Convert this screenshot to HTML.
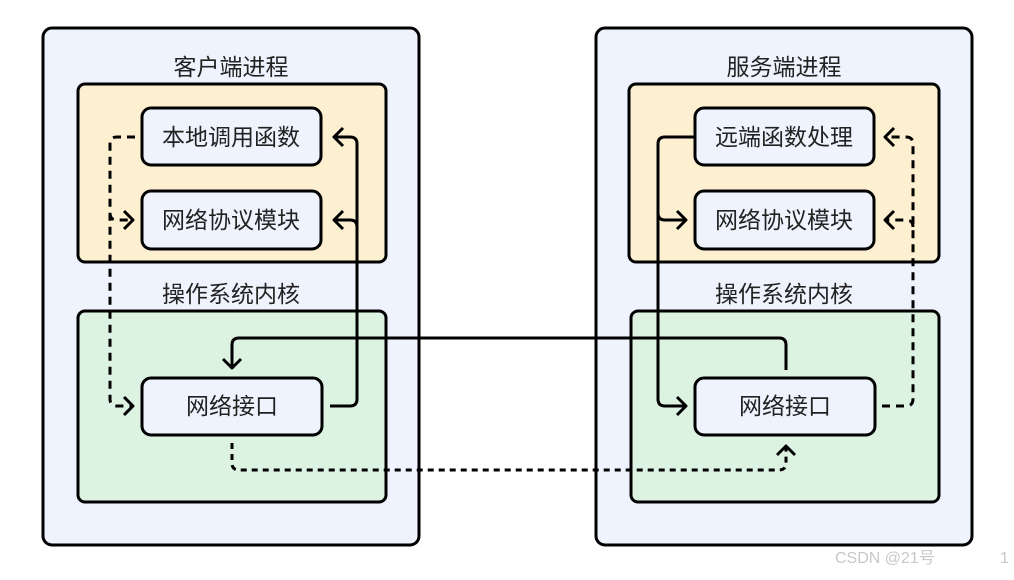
<!DOCTYPE html>
<html><head><meta charset="utf-8"><style>
html,body{margin:0;padding:0;background:#fff;}
svg text{font-family:"Liberation Sans","Noto Sans CJK SC",sans-serif;}
</style></head><body>
<svg width="1014" height="575" viewBox="0 0 1014 575" xmlns="http://www.w3.org/2000/svg">
<g stroke="#000" stroke-width="3">
<rect x="43" y="28" width="376" height="517" rx="9" fill="#eef3fd"/>
<rect x="596" y="28" width="376" height="517" rx="9" fill="#eef3fd"/>
<rect x="78" y="84" width="308" height="178" rx="7" fill="#fdf0d0"/>
<rect x="629" y="84" width="310" height="178" rx="7" fill="#fdf0d0"/>
<rect x="78" y="311" width="308" height="191" rx="7" fill="#ddf3e2"/>
<rect x="631" y="311" width="308" height="191" rx="7" fill="#ddf3e2"/>
<rect x="142" y="108" width="179" height="57" rx="9" fill="#eef3fd"/>
<rect x="142" y="191" width="179" height="58" rx="9" fill="#eef3fd"/>
<rect x="142" y="378" width="180" height="57" rx="9" fill="#eef3fd"/>
<rect x="695" y="108" width="179" height="57" rx="9" fill="#eef3fd"/>
<rect x="695" y="191" width="179" height="58" rx="9" fill="#eef3fd"/>
<rect x="695" y="378" width="180" height="57" rx="9" fill="#eef3fd"/>
</g>
<g fill="none" stroke="#000" stroke-width="3" stroke-linejoin="round">
<path d="M330 406 H350 Q357 406 357 399 V144 Q357 137 350 137 H334"/>
<path d="M357 227 Q357 220 350 220 H334"/>
<path d="M343 128 L334 137 L343 146 M343 211 L334 220 L343 229"/>
<path d="M135 137 H117 Q110 137 110 144 V399 Q110 406 117 406 H133" stroke-dasharray="8 6"/>
<path d="M110 213 Q110 220 117 220 H133" stroke-dasharray="8 6"/>
<path d="M124 211 L133 220 L124 229 M124 397 L133 406 L124 415"/>
<path d="M786 370 V345 Q786 338 779 338 H239 Q232 338 232 345 V368"/>
<path d="M223 359 L232 368 L241 359"/>
<path d="M232 443 V463 Q232 470 239 470 H779 Q786 470 786 463 V446" stroke-dasharray="6 5"/>
<path d="M777 455 L786 446 L795 455"/>
<path d="M695 137 H665 Q658 137 658 144 V399 Q658 406 665 406 H686"/>
<path d="M658 213 Q658 220 665 220 H686"/>
<path d="M677 211 L686 220 L677 229 M677 397 L686 406 L677 415"/>
<path d="M882 406 H906 Q913 406 913 399 V144 Q913 137 906 137 H885" stroke-dasharray="8 6"/>
<path d="M913 227 Q913 220 906 220 H885" stroke-dasharray="8 6"/>
<path d="M894 128 L885 137 L894 146 M894 211 L885 220 L894 229"/>
</g>
<g font-size="23" fill="#222" text-anchor="middle">
<text x="231" y="75">客户端进程</text>
<text x="784" y="75">服务端进程</text>
<text x="231" y="302">操作系统内核</text>
<text x="784" y="302">操作系统内核</text>
<text x="231" y="145">本地调用函数</text>
<text x="231" y="228">网络协议模块</text>
<text x="232" y="414">网络接口</text>
<text x="784" y="145">远端函数处理</text>
<text x="784" y="228">网络协议模块</text>
<text x="785" y="414">网络接口</text>
</g>
<text x="835" y="563" font-size="16" fill="#c8c8c8">CSDN @21号</text>
<text x="1000" y="563" font-size="16" fill="#c8c8c8">1</text>
</svg>
</body></html>
